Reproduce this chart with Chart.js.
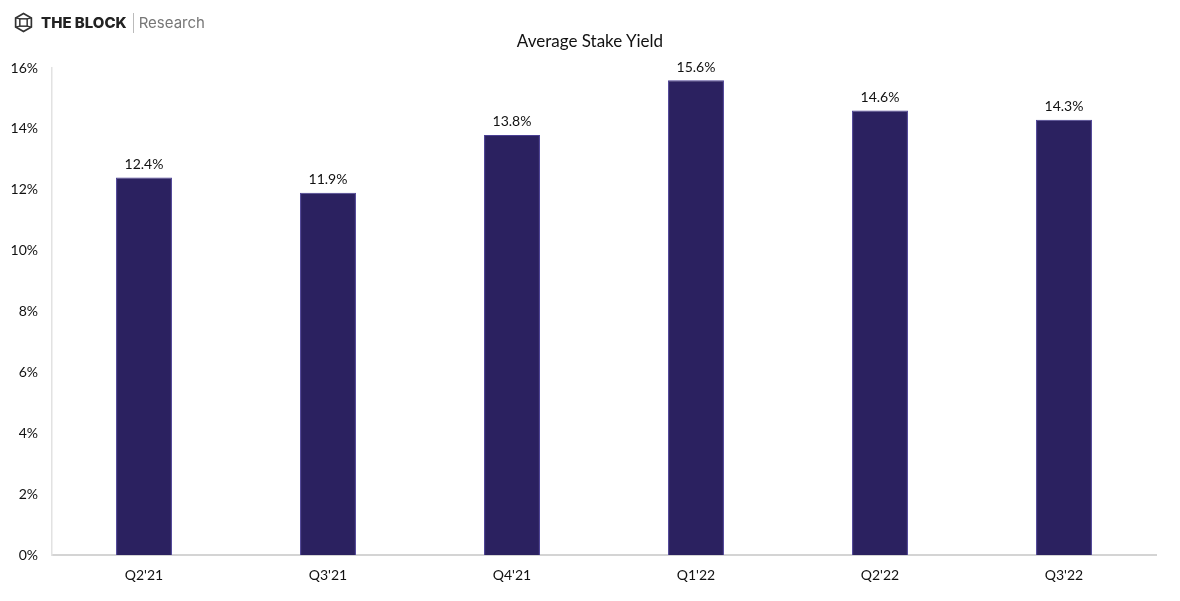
<!DOCTYPE html>
<html>
<head>
<meta charset="utf-8">
<script src="https://cdn.jsdelivr.net/npm/chart.js@4.4.0/dist/chart.umd.min.js"></script>
<style>
  html, body { margin: 0; padding: 0; background: #fff; }
  #wrap { position: relative; width: 1180px; height: 601px; }
  #logo { position: absolute; left: 13px; top: 12px; display: flex; align-items: center; font-family: Inter, "Noto Sans", sans-serif; }
  #logo .brand { font-weight: 800; font-size: 15px; color: #222; margin-left: 7px; }
  #logo .sep { width: 1px; height: 20px; background: #bbb; margin: 0 5px 0 6px; }
  #logo .sub { font-size: 15px; color: #777; }
  #title { position: absolute; left: 0; width: 1180px; top: 30px; text-align: center; font-family: Lato, sans-serif; font-size: 17px; color: #111; }
</style>
</head>
<body>
<div id="wrap">
  <canvas id="chart" width="1180" height="601"></canvas>
  <div id="logo">
    <svg width="21" height="21" viewBox="0 0 20 20">
      <polygon points="10,1.5 17.5,5.7 17.5,14.3 10,18.5 2.5,14.3 2.5,5.7" fill="none" stroke="#333" stroke-width="1.6"/>
      <rect x="6.5" y="6.5" width="7" height="7" fill="none" stroke="#333" stroke-width="1.4"/>
      <line x1="2.5" y1="5.7" x2="6.5" y2="6.5" stroke="#333" stroke-width="1.2"/>
      <line x1="17.5" y1="5.7" x2="13.5" y2="6.5" stroke="#333" stroke-width="1.2"/>
      <line x1="2.5" y1="14.3" x2="6.5" y2="13.5" stroke="#333" stroke-width="1.2"/>
      <line x1="17.5" y1="14.3" x2="13.5" y2="13.5" stroke="#333" stroke-width="1.2"/>
    </svg>
    <span class="brand">THE BLOCK</span><span class="sep"></span><span class="sub">Research</span>
  </div>
  <div id="title">Average Stake Yield</div>
</div>
<script>
// données
const categories = ["Q2'21", "Q3'21", "Q4'21", "Q1'22", "Q2'22", "Q3'22"];
const stakeYield = [12.4, 11.9, 13.8, 15.6, 14.6, 14.3];
const yTicks = [0, 2, 4, 6, 8, 10, 12, 14, 16];

const FONT = 'Lato, "Open Sans", sans-serif';

// étiquettes au-dessus des barres
const valueLabels = {
  id: 'valueLabels',
  afterDatasetsDraw(chart) {
    const ctx = chart.ctx;
    const meta = chart.getDatasetMeta(0);
    ctx.save();
    ctx.font = '14px ' + FONT;
    ctx.fillStyle = '#111';
    ctx.textAlign = 'center';
    ctx.textBaseline = 'bottom';
    meta.data.forEach((bar, i) => {
      ctx.fillText(stakeYield[i].toFixed(1) + '%', bar.x, bar.y - 6);
    });
    ctx.restore();
  }
};

new Chart(document.getElementById('chart').getContext('2d'), {
  type: 'bar',
  data: {
    labels: categories,
    datasets: [{
      data: stakeYield,
      backgroundColor: '#2b2160',
      borderColor: '#4a3f94',
      borderWidth: 1,
      barPercentage: 0.304,
      categoryPercentage: 1
    }]
  },
  options: {
    responsive: false,
    animation: false,
    layout: { padding: { top: 68, right: 24, left: 0, bottom: 0 } },
    plugins: { legend: { display: false }, tooltip: { enabled: false } },
    scales: {
      x: {
        grid: { display: false, drawTicks: false },
        border: { color: '#d4d4d4', width: 2 },
        ticks: { color: '#111', font: { family: FONT, size: 14 }, padding: 12 },
        afterFit: s => { s.height = 46; }
      },
      y: {
        min: 0,
        max: 16,
        afterBuildTicks: s => { s.ticks = yTicks.map(v => ({ value: v })); },
        grid: { display: false, drawTicks: false },
        border: { color: '#e2e2e2', width: 1.5 },
        ticks: { color: '#111', font: { family: FONT, size: 14 }, padding: 14, callback: v => v + '%' },
        afterFit: s => { s.width = 52; }
      }
    }
  },
  plugins: [valueLabels]
});
</script>
</body>
</html>
